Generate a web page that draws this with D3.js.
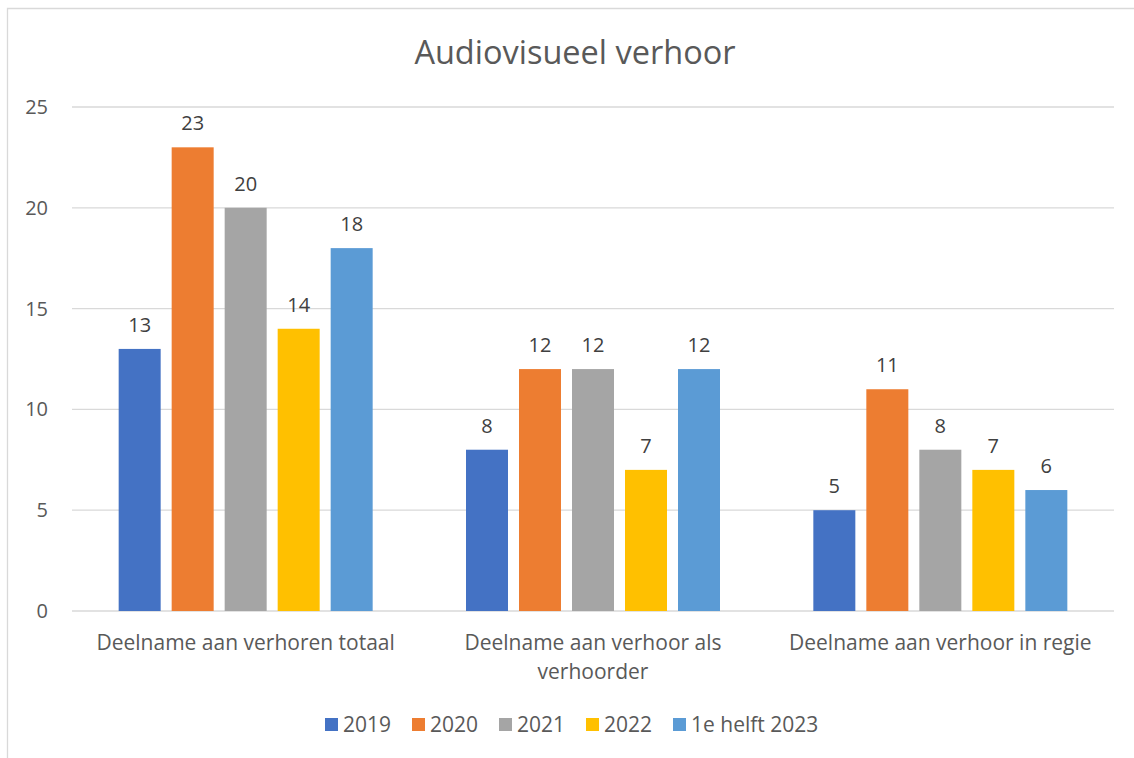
<!DOCTYPE html>
<meta charset="utf-8">
<html>
  <head>
    <title>Audiovisueel verhoor</title>
    <style>
      body { margin: 0; background: #fff; font-family: "Open Sans", sans-serif; }
    </style>
  </head>
  <body>
    <div id="chart"></div>
    <script src="https://d3js.org/d3.v7.min.js"></script>
    <script>
      // data
      const categories = [
        ["Deelname aan verhoren totaal"],
        ["Deelname aan verhoor als", "verhoorder"],
        ["Deelname aan verhoor in regie"]
      ];
      const series = ["2019", "2020", "2021", "2022", "1e helft 2023"];
      const values2019 = [13, 8, 5];
      const values2020 = [23, 12, 11];
      const values2021 = [20, 12, 8];
      const values2022 = [14, 7, 7];
      const values2023 = [18, 12, 6];
      const yTicks = [0, 5, 10, 15, 20, 25];
      const colors = ["#4472C4", "#ED7D31", "#A5A5A5", "#FFC000", "#5B9BD5"];

      const allValues = [values2019, values2020, values2021, values2022, values2023];

      const W = 1134, H = 758;
      const margin = {top: 107, right: 20, bottom: 147, left: 72};
      const width = 1114 - margin.left,
            height = 611 - margin.top;

      const svg = d3.select("#chart").append("svg")
        .attr("width", W).attr("height", H);

      // chart border
      svg.append("path")
        .attr("d", "M7.5,758 L7.5,8.5 L1134,8.5")
        .attr("fill", "none")
        .attr("stroke", "#D9D9D9")
        .attr("stroke-width", 1.3);

      const g = svg.append("g")
        .attr("transform", `translate(${margin.left}, ${margin.top})`);

      const x0 = d3.scaleBand()
        .domain(d3.range(categories.length))
        .range([0, width]);

      const x1 = d3.scaleBand()
        .domain(series)
        .range([0, 5 * 53 - 11])
        .paddingInner(11 / 53);

      const y = d3.scaleLinear()
        .domain([0, 25])
        .range([height, 0]);

      const color = d3.scaleOrdinal().domain(series).range(colors);

      // gridlines
      g.selectAll("line.grid")
        .data(yTicks)
        .join("line")
          .attr("class", "grid")
          .attr("x1", 0).attr("x2", width)
          .attr("y1", d => y(d)).attr("y2", d => y(d))
          .attr("stroke", "#D9D9D9")
          .attr("stroke-width", 1.3);

      // y tick labels
      g.selectAll("text.ytick")
        .data(yTicks)
        .join("text")
          .attr("class", "ytick")
          .attr("x", -24)
          .attr("y", d => y(d))
          .attr("dy", "0.35em")
          .attr("text-anchor", "end")
          .attr("fill", "#595959")
          .style("font-size", "20px")
          .text(d => d);

      // bars
      const groups = g.selectAll("g.cat")
        .data(categories)
        .join("g")
          .attr("class", "cat")
          .attr("transform", (d, i) => `translate(${x0(i) + x0.bandwidth() / 2 - x1.range()[1] / 2}, 0)`);

      groups.selectAll("rect")
        .data((d, i) => series.map((s, j) => ({key: s, value: allValues[j][i]})))
        .join("rect")
          .attr("x", d => x1(d.key))
          .attr("y", d => y(d.value))
          .attr("width", x1.bandwidth())
          .attr("height", d => height - y(d.value))
          .attr("fill", d => color(d.key));

      groups.selectAll("text.val")
        .data((d, i) => series.map((s, j) => ({key: s, value: allValues[j][i]})))
        .join("text")
          .attr("class", "val")
          .attr("x", d => x1(d.key) + x1.bandwidth() / 2)
          .attr("y", d => y(d.value) - 17)
          .attr("text-anchor", "middle")
          .attr("fill", "#404040")
          .style("font-size", "20px")
          .text(d => d.value);

      // category labels
      const catLabels = g.selectAll("text.cat")
        .data(categories)
        .join("text")
          .attr("class", "cat")
          .attr("text-anchor", "middle")
          .attr("fill", "#595959")
          .style("font-size", "21px");
      catLabels.selectAll("tspan")
        .data((d, i) => d.map(t => ({t, i})))
        .join("tspan")
          .attr("x", d => x0(d.i) + x0.bandwidth() / 2)
          .attr("y", (d, k) => height + 39 + k * 29)
          .text(d => d.t);

      // title
      svg.append("text")
        .attr("x", 575)
        .attr("y", 64)
        .attr("text-anchor", "middle")
        .attr("fill", "#595959")
        .style("font-size", "32.5px")
        .text("Audiovisueel verhoor");

      // legend
      const legendX = [325, 412, 499, 586, 673];
      const legend = svg.selectAll("g.legend")
        .data(series)
        .join("g")
          .attr("class", "legend")
          .attr("transform", (d, i) => `translate(${legendX[i]}, 725)`);
      legend.append("rect")
        .attr("x", 0).attr("y", -7)
        .attr("width", 13).attr("height", 13)
        .attr("fill", d => color(d));
      legend.append("text")
        .attr("x", 18)
        .attr("dy", "0.35em")
        .attr("fill", "#595959")
        .style("font-size", "21px")
        .text(d => d);
    </script>
  </body>
</html>
